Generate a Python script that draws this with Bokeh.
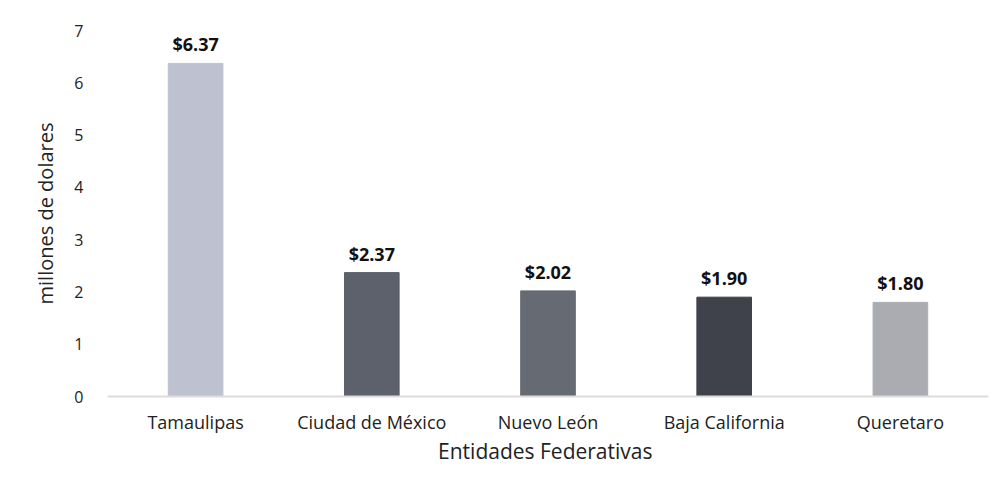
from bokeh.plotting import figure
from bokeh.models import ColumnDataSource, FixedTicker, Range1d
from bokeh.embed import file_html
from bokeh.resources import INLINE
from bokeh.core.properties import value

categories = ["Tamaulipas", "Ciudad de México", "Nuevo León", "Baja California", "Queretaro"]
values = [6.37, 2.37, 2.02, 1.90, 1.80]
colors = ["#bec2d0", "#5d616b", "#666a73", "#3f424a", "#aaacb2"]
labels = ["$%.2f" % v for v in values]
y_ticks = [0, 1, 2, 3, 4, 5, 6, 7]

FONT = "Open Sans"

src = ColumnDataSource(dict(cat=categories, val=values, color=colors, label=labels))

p = figure(x_range=categories, y_range=Range1d(0, 7), width=994, height=483,
           output_backend="svg", toolbar_location=None,
           min_border_left=107, min_border_right=6, min_border_top=30, min_border_bottom=87)
p.outline_line_color = None
p.grid.grid_line_color = None
p.background_fill_color = "white"
p.border_fill_color = "white"

p.vbar(x="cat", top="val", width=0.31, color="color", source=src)
p.text(x="cat", y="val", text="label", source=src, text_align="center", text_baseline="alphabetic",
       y_offset=-19, text_font=value(FONT), text_font_size="18px", text_font_style="bold",
       text_color="#111111")

p.yaxis.ticker = FixedTicker(ticks=y_ticks)
p.yaxis.axis_line_color = None
p.yaxis.major_tick_line_color = None
p.yaxis.minor_tick_line_color = None
p.yaxis.major_label_standoff = 18
p.yaxis.major_label_text_font = FONT
p.yaxis.major_label_text_font_size = "16px"
p.yaxis.major_label_text_color = "#222222"
p.yaxis.axis_label = "millones de dolares"
p.yaxis.axis_label_text_font = FONT
p.yaxis.axis_label_text_font_size = "20px"
p.yaxis.axis_label_text_font_style = "normal"
p.yaxis.axis_label_text_color = "#222222"
p.yaxis.axis_label_standoff = 12

p.xaxis.axis_line_color = "#dcdcdc"
p.xaxis.axis_line_width = 2
p.xaxis.major_tick_line_color = None
p.xaxis.minor_tick_line_color = None
p.xaxis.major_label_standoff = 7
p.xaxis.major_label_text_font = FONT
p.xaxis.major_label_text_font_size = "18px"
p.xaxis.major_label_text_color = "#222222"
p.xaxis.axis_label = "Entidades  Federativas"
p.xaxis.axis_label_text_font = FONT
p.xaxis.axis_label_text_font_size = "21px"
p.xaxis.axis_label_text_font_style = "normal"
p.xaxis.axis_label_text_color = "#222222"
p.xaxis.axis_label_standoff = 0

open("out.html", "w").write(file_html(p, INLINE))
